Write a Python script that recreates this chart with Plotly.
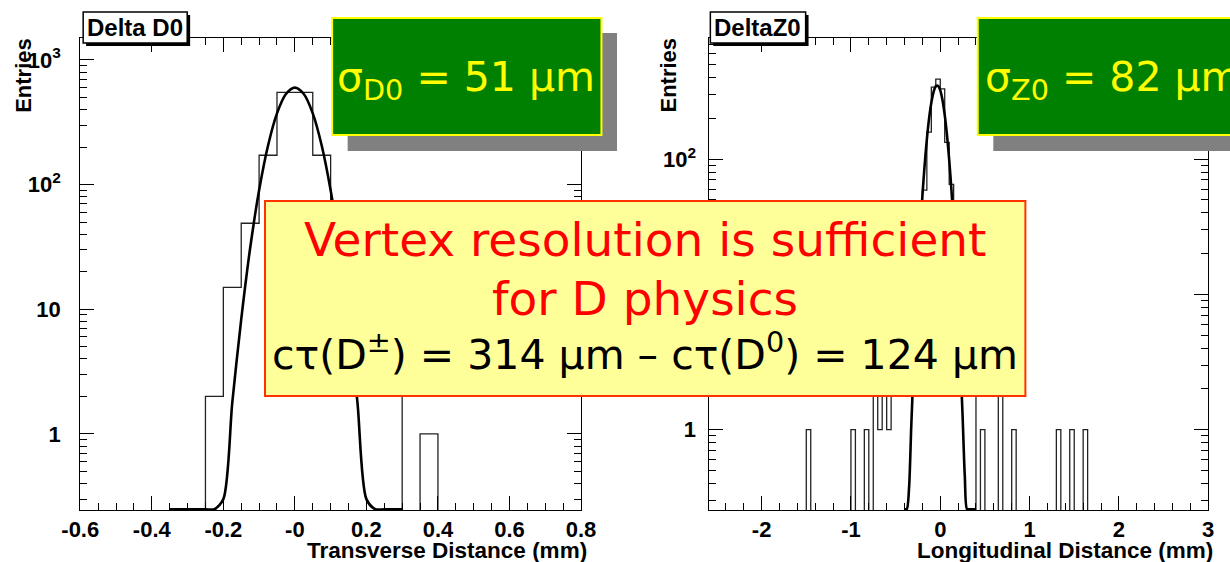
import plotly.graph_objects as go

W, H = 1230, 562

# ---------------- data: Delta D0 (transverse) ----------------
d0_bin_width = 0.05
d0_bin_lo = [-0.25, -0.20, -0.15, -0.10, -0.05, 0.00, 0.05, 0.10, 0.15, 0.20, 0.25, 0.35]
d0_counts = [2, 15, 49, 172, 550, 550, 172, 45, 12, 2, 2, 1]

# fitted gaussian curve
d0_fit_x = [-0.35, -0.325, -0.3, -0.275, -0.25, -0.225, -0.2, -0.175, -0.15, -0.125, -0.1, -0.075,
            -0.05, -0.025, 0.0, 0.025, 0.05, 0.075, 0.1, 0.125, 0.15, 0.175, 0.2, 0.225, 0.25,
            0.275, 0.3]
d0_fit_y = [1e-8, 1e-6, 2.2e-5, 3.4e-4, 4.2e-3, 0.04, 0.30, 1.78, 8.3, 31, 90, 206,
            373, 533, 600, 533, 373, 206, 90, 31, 8.3, 1.78, 0.30, 0.04, 4.2e-3,
            3.4e-4, 2.2e-5]

# ---------------- data: DeltaZ0 (longitudinal) ----------------
z0_bin_width = 0.05
z0_bin_lo = [-1.50, -1.00, -0.85, -0.75, -0.70, -0.65, -0.60, -0.55, -0.50, -0.45, -0.40,
             -0.35, -0.30, -0.25, -0.20, -0.15, -0.10, -0.05, 0.00, 0.05, 0.10, 0.15, 0.20,
             0.25, 0.30, 0.35, 0.45, 0.65, 0.80, 1.30, 1.45, 1.60]
z0_counts = [1, 1, 1, 2, 1, 2, 1, 2, 2, 2, 3,
             3, 6, 18, 59, 158, 340, 390, 330, 133, 65, 20, 7,
             3, 2, 2, 1, 2, 1, 1, 1, 1]

z0_fit_x = [-0.4, -0.375, -0.35, -0.325, -0.3, -0.275, -0.25, -0.225, -0.2, -0.175, -0.15,
            -0.125, -0.1, -0.075, -0.05, -0.025, 0.0, 0.025, 0.05, 0.075, 0.1, 0.125, 0.15,
            0.175, 0.2, 0.225, 0.25, 0.275, 0.3, 0.325, 0.35, 0.375, 0.4]
z0_fit_y = [0.035, 0.117, 0.364, 1.04, 2.7, 6.5, 14.3, 28.8, 53, 90, 140,
            200, 261, 313, 345, 348, 322, 273, 212, 151, 99, 59.5, 32.8,
            16.5, 7.7, 3.25, 1.27, 0.45, 0.148, 0.045, 0.012, 0.003, 0.0007]

# ---------------- ticks / labels ----------------
d0_xtick_vals = [-0.6, -0.4, -0.2, 0.0, 0.2, 0.4, 0.6, 0.8]
d0_xtick_text = ["-0.6", "-0.4", "-0.2", "-0", "0.2", "0.4", "0.6", "0.8"]
d0_ytick_vals = [1, 10, 100, 1000]
d0_ytick_text = ["1", "10", "10<sup>2</sup>", "10<sup>3</sup>"]
z0_xtick_vals = [-2, -1, 0, 1, 2, 3]
z0_xtick_text = ["-2", "-1", "0", "1", "2", "3"]
z0_ytick_vals = [1, 10, 100]
z0_ytick_text = ["1", "10", "10<sup>2</sup>"]
minor_log_vals = [m * 10 ** e for e in (-1, 0, 1, 2, 3) for m in range(2, 10)]

d0_title = "Delta D0"
z0_title = "DeltaZ0"
d0_xtitle = "Transverse Distance (mm)"
z0_xtitle = "Longitudinal Distance (mm)"
ytitle = "Entries"
d0_sigma_text = "σ<sub>D0</sub> = 51 µm"
z0_sigma_text = "σ<sub>Z0</sub> = 82 µm"
note_lines = ["Vertex resolution is sufficient", "for D physics",
              "cτ(D<sup>±</sup>) = 314 µm – cτ(D<sup>0</sup>) = 124 µm"]

# ---------------- geometry (pixels) ----------------
L_X0, L_X1 = 63, 578
R_X0, R_X1 = 710, 1223
P_Y0, P_Y1 = 38, 510
d0_yrange = [-0.61, 3.176]
z0_yrange = [-0.595, 2.895]


def px(x):
    return x / W


def py(y):
    return 1 - y / H


def step_outline(lo_list, counts, width, floor):
    xs, ys = [], []
    prev_hi = None
    for lo, c in zip(lo_list, counts):
        hi = round(lo + width, 6)
        if prev_hi is None or abs(lo - prev_hi) > 1e-9:
            if prev_hi is not None:
                xs.append(prev_hi); ys.append(floor)
            xs.append(lo); ys.append(floor)
        xs.append(lo); ys.append(c)
        xs.append(hi); ys.append(c)
        prev_hi = hi
    xs.append(prev_hi); ys.append(floor)
    return xs, ys


FONT = "Liberation Sans, Arial, sans-serif"
COMIC = "Comic Sans MS, DejaVu Sans, sans-serif"

fig = go.Figure()

for (lo, cnt, bw, fx, fy, yr, xa, ya) in [
    (d0_bin_lo, d0_counts, d0_bin_width, d0_fit_x, d0_fit_y, d0_yrange, "x", "y"),
    (z0_bin_lo, z0_counts, z0_bin_width, z0_fit_x, z0_fit_y, z0_yrange, "x2", "y2"),
]:
    hx, hy = step_outline(lo, cnt, bw, 1e-4)
    fig.add_trace(go.Scatter(x=hx, y=hy, mode="lines", xaxis=xa, yaxis=ya,
                             line=dict(color="#222222", width=1.3), hoverinfo="skip"))
    floor = 10 ** (yr[0] + 0.006)
    fig.add_trace(go.Scatter(x=fx, y=[max(v, floor) for v in fy], mode="lines",
                             xaxis=xa, yaxis=ya,
                             line=dict(color="black", width=2.6, shape="spline",
                                       smoothing=0.8),
                             hoverinfo="skip"))

tickfont = dict(family=FONT, size=22, color="black", weight="bold")
common = dict(showline=True, linecolor="black", linewidth=1, mirror="ticks",
              ticks="inside", ticklen=14, tickwidth=1, tickcolor="black",
              showgrid=False, zeroline=False, tickmode="array", tickfont=tickfont)
ymin = dict(ticks="inside", ticklen=7, tickwidth=1, tickcolor="black",
            tickmode="array", tickvals=minor_log_vals, showgrid=False)

fig.update_layout(
    width=W, height=H, margin=dict(l=0, r=0, t=0, b=0),
    paper_bgcolor="white", plot_bgcolor="white", showlegend=False,
    xaxis=dict(domain=[px(L_X0), px(L_X1)], range=[-0.6, 0.8], anchor="y",
               tickvals=d0_xtick_vals, ticktext=d0_xtick_text, ticklabelstandoff=0,
               minor=dict(ticks="inside", ticklen=7, tickwidth=1, tickcolor="black",
                          dtick=0.05, tick0=0, showgrid=False), **common),
    yaxis=dict(domain=[py(P_Y1), py(P_Y0)], range=d0_yrange, anchor="x", type="log",
               tickvals=d0_ytick_vals, ticktext=d0_ytick_text, ticklabelstandoff=14,
               minor=ymin, **common),
    xaxis2=dict(domain=[px(R_X0), px(R_X1)], range=[-2.585, 3.0], anchor="y2",
                tickvals=z0_xtick_vals, ticktext=z0_xtick_text, ticklabelstandoff=0,
                minor=dict(ticks="inside", ticklen=7, tickwidth=1, tickcolor="black",
                           dtick=0.2, tick0=0, showgrid=False), **common),
    yaxis2=dict(domain=[py(P_Y1), py(P_Y0)], range=z0_yrange, anchor="x2", type="log",
                tickvals=z0_ytick_vals, ticktext=z0_ytick_text, ticklabelstandoff=8,
                minor=ymin, **common),
)

shapes = []
annotations = []


def rect(x0, y0, x1, y1, fill, line_color=None, line_width=0):
    shapes.append(dict(type="rect", xref="paper", yref="paper", layer="above",
                       x0=px(x0), x1=px(x1), y0=py(y1), y1=py(y0),
                       fillcolor=fill,
                       line=dict(color=line_color or fill, width=line_width)))


def text(x, y, s, size, color="black", family=FONT, weight="bold", xanchor="center",
         yanchor="middle", angle=0):
    annotations.append(dict(xref="paper", yref="paper", x=px(x), y=py(y), text=s,
                            showarrow=False, xanchor=xanchor, yanchor=yanchor,
                            textangle=angle,
                            font=dict(family=family, size=size, color=color, weight=weight)))


# histogram title boxes (with shadow)
rect(69, 15, 176, 46, "black")
rect(66, 12, 173, 43, "white", "black", 1.5)
text(119.5, 27.5, d0_title, 24)
rect(714, 15, 812, 46, "black")
rect(711, 12, 809, 43, "white", "black", 1.5)
text(760, 27.5, z0_title, 24)

# axis titles
text(5, 75, ytitle, 22, angle=-90)
text(668, 75, ytitle, 22, angle=-90)
text(586, 550, d0_xtitle, 22.5, xanchor="right")
text(1230, 550, z0_xtitle, 22.5, xanchor="right")

# green sigma boxes
rect(338, 33, 615, 151, "#808080")
rect(322, 18, 599, 135, "#008000", "#FFFF00", 2)
text(460, 80, d0_sigma_text, 41, color="#FFFF00", family=COMIC, weight="normal")
rect(1002, 33, 1280, 151, "#808080")
rect(986, 18, 1264, 135, "#008000", "#FFFF00", 2)
text(1125, 80, z0_sigma_text, 41, color="#FFFF00", family=COMIC, weight="normal")

# yellow note box
rect(253, 201, 1035, 396, "#FFFF99", "#FF3300", 2)
text(644, 240, note_lines[0], 47, color="#FF0000", family=COMIC, weight="normal")
text(644, 298, note_lines[1], 47, color="#FF0000", family=COMIC, weight="normal")
text(644, 352, note_lines[2], 41, color="black", family=COMIC, weight="normal")

fig.update_layout(shapes=shapes, annotations=annotations)
fig.write_html("out.html")
